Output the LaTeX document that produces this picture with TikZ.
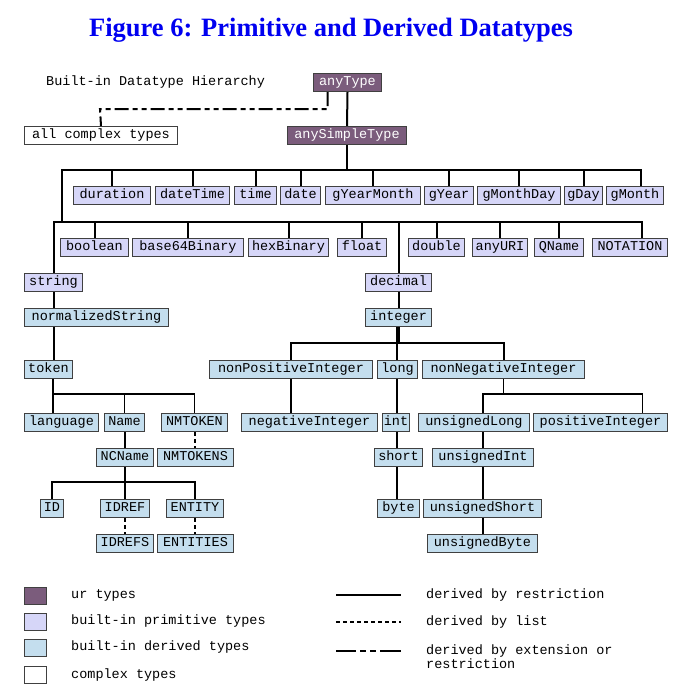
\documentclass[tikz,border=0pt]{standalone}
\usepackage{fontspec}
\setmainfont{Liberation Serif}
\setmonofont{Liberation Mono}
\usepackage{tikz}
\usetikzlibrary{backgrounds,positioning}
\definecolor{urcol}{HTML}{7B5C7C}
\definecolor{primcol}{HTML}{D6D6F8}
\definecolor{derivcol}{HTML}{C4DEEE}
\definecolor{titleblue}{HTML}{0000F0}
\newcommand{\monofnt}{\ttfamily\fontsize{13.5}{14}\selectfont}

\tikzset{
  tbox/.style={draw=black!75, line width=1pt, anchor=north west,
    minimum height=18pt, inner sep=1pt, text height=9pt, text depth=3pt, font=\monofnt},
  urbox/.style={tbox, fill=urcol, text=white},
  primbox/.style={tbox, fill=primcol},
  derbox/.style={tbox, fill=derivcol},
  cplxbox/.style={tbox, fill=white},
  legtext/.style={anchor=west, inner sep=0pt, font=\monofnt},
  restr/.style={line width=2pt},
  thinrestr/.style={line width=1.6pt},
  listdash/.style={line width=2pt, dash pattern=on 4pt off 3pt},
  extdash/.style={line width=2pt, dash pattern=on 14pt off 4pt on 5pt off 4pt on 5pt off 4pt},
}

\begin{document}
\begin{tikzpicture}[x=1pt, y=-1pt]
  \useasboundingbox (0,0) rectangle (685,693);

  % Title and caption
  \node[font=\bfseries\fontsize{26.5}{30}\selectfont, text=titleblue] (title) at (331,30)
    {Figure 6: Primitive and Derived Datatypes};
  \node[legtext] (caption) at (46,82) {Built-in Datatype Hierarchy};

  % ur types and complex types
  \node[urbox, minimum width=68pt] (anyType) at (313,73) {anyType};
  \node[cplxbox, minimum width=153pt] (allComplex) at (24,126) {all complex types};
  \node[urbox, minimum width=119pt] (anySimpleType) at (287,126) {anySimpleType};

  % primitive types, first row
  \node[primbox, minimum width=77pt] (duration) at (73,186) {duration};
  \node[primbox, minimum width=74pt] (dateTime) at (155,186) {dateTime};
  \node[primbox, minimum width=42pt] (time) at (234,186) {time};
  \node[primbox, minimum width=40pt] (date) at (280,186) {date};
  \node[primbox, minimum width=95pt] (gYearMonth) at (325,186) {gYearMonth};
  \node[primbox, minimum width=49pt] (gYear) at (424,186) {gYear};
  \node[primbox, minimum width=83pt] (gMonthDay) at (477,186) {gMonthDay};
  \node[primbox, minimum width=38pt] (gDay) at (564,186) {gDay};
  \node[primbox, minimum width=57pt] (gMonth) at (606,186) {gMonth};

  % primitive types, second row
  \node[primbox, minimum width=68pt] (boolean) at (60,238) {boolean};
  \node[primbox, minimum width=111pt] (base64Binary) at (132,238) {base64Binary};
  \node[primbox, minimum width=80pt] (hexBinary) at (248,238) {hexBinary};
  \node[primbox, minimum width=49pt] (float) at (337,238) {float};
  \node[primbox, minimum width=56pt] (double) at (408,238) {double};
  \node[primbox, minimum width=55pt] (anyURI) at (472,238) {anyURI};
  \node[primbox, minimum width=49pt] (QName) at (534,238) {QName};
  \node[primbox, minimum width=75pt] (NOTATION) at (592,238) {NOTATION};
  \node[primbox, minimum width=58pt] (string) at (24,273) {string};
  \node[primbox, minimum width=66pt] (decimal) at (365,273) {decimal};

  % derived types, string branch
  \node[derbox, minimum width=144pt] (normalizedString) at (24,308) {normalizedString};
  \node[derbox, minimum width=48pt] (token) at (24,360) {token};
  \node[derbox, minimum width=74pt] (language) at (24,413) {language};
  \node[derbox, minimum width=40pt] (Name) at (104,413) {Name};
  \node[derbox, minimum width=66pt] (NMTOKEN) at (161,413) {NMTOKEN};
  \node[derbox, minimum width=57pt] (NCName) at (96,448) {NCName};
  \node[derbox, minimum width=76pt] (NMTOKENS) at (157,448) {NMTOKENS};
  \node[derbox, minimum width=23pt] (ID) at (40,499) {ID};
  \node[derbox, minimum width=49pt] (IDREF) at (100,499) {IDREF};
  \node[derbox, minimum width=57pt] (ENTITY) at (166,499) {ENTITY};
  \node[derbox, minimum width=57pt] (IDREFS) at (96,534) {IDREFS};
  \node[derbox, minimum width=76pt] (ENTITIES) at (157,534) {ENTITIES};

  % derived types, decimal branch
  \node[derbox, minimum width=66pt] (integer) at (365,308) {integer};
  \node[derbox, minimum width=163pt] (nonPositiveInteger) at (209,360) {nonPositiveInteger};
  \node[derbox, minimum width=40pt] (long) at (377,360) {long};
  \node[derbox, minimum width=162pt] (nonNegativeInteger) at (422,360) {nonNegativeInteger};
  \node[derbox, minimum width=136pt] (negativeInteger) at (241,413) {negativeInteger};
  \node[derbox, minimum width=27pt] (int) at (382,413) {int};
  \node[derbox, minimum width=111pt] (unsignedLong) at (418,413) {unsignedLong};
  \node[derbox, minimum width=134pt] (positiveInteger) at (533,413) {positiveInteger};
  \node[derbox, minimum width=48pt] (short) at (374,448) {short};
  \node[derbox, minimum width=101pt] (unsignedInt) at (432,448) {unsignedInt};
  \node[derbox, minimum width=42pt] (byte) at (377,499) {byte};
  \node[derbox, minimum width=118pt] (unsignedShort) at (423,499) {unsignedShort};
  \node[derbox, minimum width=110pt] (unsignedByte) at (427,534) {unsignedByte};

  % bus points
  \coordinate (busTop) at (62,170);
  \coordinate (busPrim) at (62,222);
  \coordinate (cplxBend) at (100,109);
  \coordinate (forkTok) at (53,394);
  \coordinate (forkNC) at (124,482);
  \coordinate (forkInt) at (397,343);
  \coordinate (forkNN) at (504,394);

  \begin{scope}[on background layer]
    \draw[restr] (anyType.south) -- (anySimpleType.north);
    \draw[extdash] ([xshift=-20pt]anyType.south) |- (cplxBend) -- (allComplex.north);

    \foreach \n in {duration,dateTime,time,date,gYearMonth,gYear,gMonthDay,gDay}
      \draw[restr] (anySimpleType.south) |- (\n.north |- busTop) -- (\n.north);
    \draw[restr] (anySimpleType.south) |- ([xshift=6pt]gMonth.north |- busTop) -- ([xshift=6pt]gMonth.north);
    \draw[restr] (anySimpleType.south) |- (busTop) -- (busPrim);

    \foreach \n in {boolean,base64Binary,hexBinary,float,double,anyURI,QName}
      \draw[restr] (busPrim) -| (\n.north);
    \draw[restr] (busPrim) -| ([xshift=12pt]NOTATION.north);
    \draw[restr] (busPrim) -| (string.north);
    \draw[restr] (busPrim) -| (decimal.north);

    % string branch
    \draw[restr] (string.south) -- (string.south |- normalizedString.north);
    \draw[restr] (normalizedString.south -| string.south) -- (token.north -| string.south);
    \draw[restr] (token.south -| forkTok) -- (forkTok) -- (language.north -| forkTok);
    \draw[thinrestr] (forkTok) -| (Name.north);
    \draw[thinrestr] (forkTok) -| (NMTOKEN.north);
    \draw[restr] (Name.south) -- (Name.south |- NCName.north);
    \draw[listdash] (NMTOKEN.south) -- (NMTOKEN.south |- NMTOKENS.north);
    \foreach \n in {ID,IDREF,ENTITY}
      \draw[restr] (NCName.south) |- (\n.north |- forkNC) -- (\n.north);
    \draw[listdash] (IDREF.south) -- (IDREF.south |- IDREFS.north);
    \draw[listdash] (ENTITY.south) -- (ENTITY.south |- ENTITIES.north);

    % decimal branch
    \draw[restr] (decimal.south) -- (decimal.south |- integer.north);
    \draw[restr] (integer.south) |- (nonPositiveInteger.north |- forkInt) -- (nonPositiveInteger.north);
    \draw[restr] (integer.south) |- (nonNegativeInteger.north |- forkInt) -- (nonNegativeInteger.north);
    \draw[restr] (integer.south -| forkInt) -- (long.north -| forkInt);
    \draw[restr] (nonPositiveInteger.south) -- (nonPositiveInteger.south |- negativeInteger.north);
    \draw[restr] (long.south -| forkInt) -- (int.north -| forkInt);
    \draw[restr] (int.south -| forkInt) -- (short.north -| forkInt);
    \draw[restr] (short.south -| forkInt) -- (byte.north -| forkInt);
    \draw[thinrestr] (nonNegativeInteger.south) |- (forkNN) -| ([xshift=9pt]unsignedLong.north);
    \draw[thinrestr] (nonNegativeInteger.south) |- (forkNN) -| ([xshift=42pt]positiveInteger.north);
    \draw[restr] ([xshift=9pt]unsignedLong.south) -- ([xshift=9pt]unsignedLong.south |- unsignedInt.north);
    \draw[restr] ([xshift=9pt]unsignedLong.south |- unsignedInt.south) -- ([xshift=9pt]unsignedLong.south |- unsignedShort.north);
    \draw[restr] ([xshift=9pt]unsignedLong.south |- unsignedShort.south) -- ([xshift=9pt]unsignedLong.south |- unsignedByte.north);
  \end{scope}

  % Legend
  \node[urbox, minimum width=22pt, minimum height=17pt] (keyUr) at (24,587) {};
  \node[primbox, minimum width=22pt, minimum height=17pt] (keyPrim) at (24,613) {};
  \node[derbox, minimum width=22pt, minimum height=17pt] (keyDer) at (24,639) {};
  \node[cplxbox, minimum width=22pt, minimum height=17pt] (keyCplx) at (24,666) {};
  \node[legtext] (labUr) at (71,595) {ur types};
  \node[legtext] (labPrim) at (71,621) {built-in primitive types};
  \node[legtext] (labDer) at (71,647) {built-in derived types};
  \node[legtext] (labCplx) at (71,675) {complex types};

  \coordinate (keyRestrA) at (336,595);
  \coordinate (keyRestrB) at (401,595);
  \coordinate (keyListA) at (336,622);
  \coordinate (keyListB) at (401,622);
  \coordinate (keyExtA) at (336,651);
  \coordinate (keyExtB) at (401,651);
  \draw[restr] (keyRestrA) -- (keyRestrB);
  \draw[listdash] (keyListA) -- (keyListB);
  \draw[line width=2pt, dash pattern=on 20pt off 4pt on 6pt off 4pt on 6pt off 4pt on 21pt off 100pt] (keyExtA) -- (keyExtB);
  \node[legtext] (labRestr) at (426,595) {derived by restriction};
  \node[legtext] (labList) at (426,622) {derived by list};
  \node[legtext, align=left] (labExt) at (426,657) {derived by extension or\\restriction};
\end{tikzpicture}
\end{document}
